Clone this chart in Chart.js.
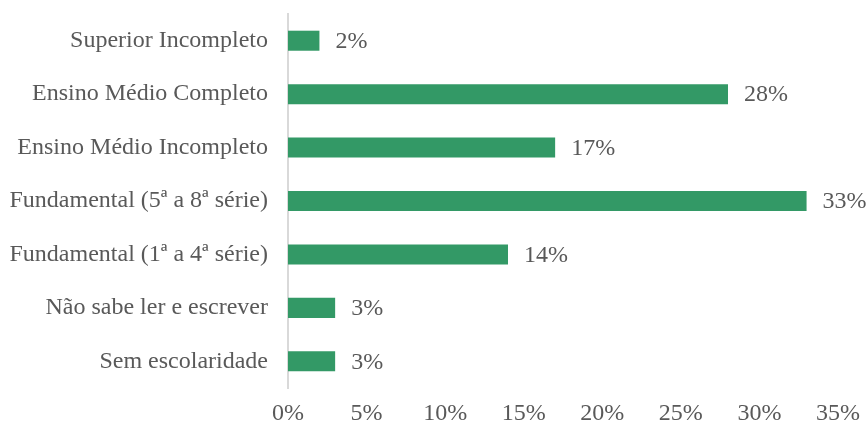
<!DOCTYPE html>
<html>
<head>
<meta charset="utf-8">
<script src="https://cdn.jsdelivr.net/npm/chart.js@4/dist/chart.umd.min.js"></script>
<style>
  html, body { margin: 0; padding: 0; background: #fff; }
  #wrap { width: 867px; height: 426px; }
</style>
</head>
<body>
<div id="wrap"><canvas id="myChart"></canvas></div>
<script>
var categorias = ['Superior Incompleto', 'Ensino Médio Completo', 'Ensino Médio Incompleto',
  'Fundamental (5ª a 8ª série)', 'Fundamental (1ª a 4ª série)', 'Não sabe ler e escrever', 'Sem escolaridade'];
var valores = [2, 28, 17, 33, 14, 3, 3];
var ticksX = [0, 5, 10, 15, 20, 25, 30, 35];

var fonte = "'Liberation Serif', 'Times New Roman', serif";
var cinza = '#595959';

// rotulos de valor no fim de cada barra
var rotulos = {
  id: 'rotulos',
  afterDatasetsDraw: function(chart) {
    var c = chart.ctx;
    var meta = chart.getDatasetMeta(0);
    c.save();
    c.font = '24px ' + fonte;
    c.fillStyle = cinza;
    c.textAlign = 'left';
    c.textBaseline = 'middle';
    meta.data.forEach(function(bar, i) {
      c.fillText(valores[i] + '%', bar.x + 16, bar.y + 1);
    });
    c.restore();
  }
};

var ctx = document.getElementById('myChart').getContext('2d');
var myChart = new Chart(ctx, {
  type: 'bar',
  data: {
    labels: categorias,
    datasets: [{
      data: valores,
      backgroundColor: '#339966',
      barPercentage: 0.75,
      categoryPercentage: 0.5
    }]
  },
  options: {
    indexAxis: 'y',
    responsive: true,
    maintainAspectRatio: false,
    animation: false,
    layout: { padding: { top: 14, right: 29, left: 0, bottom: 0 } },
    plugins: { legend: { display: false }, tooltip: { enabled: false } },
    scales: {
      x: {
        min: 0, max: 35,
        afterBuildTicks: function(s) { s.ticks = ticksX.map(function(v) { return { value: v }; }); },
        grid: { display: false },
        border: { display: false },
        ticks: {
          color: cinza, font: { family: fonte, size: 24 }, padding: 3,
          callback: function(v) { return v + '%'; }
        },
        afterFit: function(s) { s.height = 38; }
      },
      y: {
        grid: { display: false },
        border: { display: true, color: '#d9d9d9', width: 2 },
        ticks: { color: cinza, font: { family: fonte, size: 24 }, padding: 12 },
        afterFit: function(s) { s.width = 288; s.paddingTop = 0; s.paddingBottom = 0; }
      }
    }
  },
  plugins: [rotulos]
});
</script>
</body>
</html>
